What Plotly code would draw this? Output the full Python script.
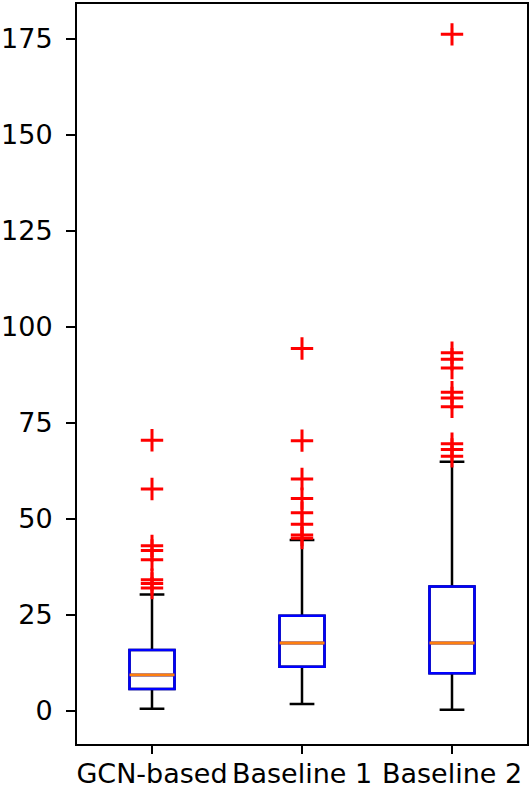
import plotly.graph_objects as go

categories = ["GCN-based", "Baseline 1", "Baseline 2"]
lower_whisker = [0.6, 1.8, 0.3]
q1 = [5.7, 11.5, 9.8]
median = [9.4, 17.7, 17.7]
q3 = [15.9, 24.8, 32.4]
upper_whisker = [30.3, 44.5, 64.9]

outliers_gcn = [70.5, 57.8, 43.0, 41.8, 39.4, 34.2, 33.2, 32.0]
outliers_b1 = [94.4, 70.4, 60.4, 55.3, 51.6, 48.6, 45.8, 45.0]
outliers_b2 = [176.2, 93.3, 91.6, 89.3, 83.0, 81.5, 79.2, 69.6, 68.1, 66.3]

y_ticks = [0, 25, 50, 75, 100, 125, 150, 175]

FONT = "DejaVu Sans"
FS = 27
clear = "rgba(0,0,0,0)"

fig = go.Figure()

# whiskers (black)
fig.add_trace(go.Box(
    x=categories, q1=q1, median=median, q3=q3,
    lowerfence=lower_whisker, upperfence=upper_whisker,
    width=0.3, whiskerwidth=0.55, boxpoints=False,
    line=dict(color="black", width=2.5), fillcolor=clear,
    showlegend=False, hoverinfo="skip"))

# box (blue)
fig.add_trace(go.Box(
    x=categories, q1=q1, median=median, q3=q3,
    lowerfence=q1, upperfence=q3,
    width=0.3, whiskerwidth=0, boxpoints=False,
    line=dict(color="#0000ff", width=2.5), fillcolor=clear,
    showlegend=False, hoverinfo="skip"))

# median (orange)
fig.add_trace(go.Box(
    x=categories, q1=median, median=median, q3=median,
    lowerfence=median, upperfence=median,
    width=0.3, whiskerwidth=0, boxpoints=False,
    line=dict(color="#ff7f0e", width=2.8), fillcolor=clear,
    showlegend=False, hoverinfo="skip"))

# outliers
ox, oy = [], []
for cat, vals in zip(categories, [outliers_gcn, outliers_b1, outliers_b2]):
    ox += [cat] * len(vals)
    oy += vals
fig.add_trace(go.Scatter(
    x=ox, y=oy, mode="markers",
    marker=dict(symbol="cross-thin", size=16, color="red",
                line=dict(color="red", width=3)),
    showlegend=False, hoverinfo="skip"))

fig.update_layout(
    width=529, height=789,
    margin=dict(l=77, r=2, t=4, b=45, autoexpand=False),
    plot_bgcolor="white", paper_bgcolor="white",
    boxmode="overlay",
    font=dict(family=FONT, size=FS, color="black"),
)
fig.update_xaxes(
    type="category", categoryorder="array", categoryarray=categories,
    range=[-0.5, 2.5], showline=True, linecolor="black", linewidth=2,
    mirror=True, ticks="outside", ticklen=8, tickwidth=2, tickcolor="black",
    showgrid=False, zeroline=False, automargin=False, tickangle=0,
    ticklabelstandoff=-3,
    tickfont=dict(family=FONT, size=FS))
fig.update_yaxes(
    range=[-8.6, 184.1], tickvals=y_ticks, ticktext=[str(v) for v in y_ticks],
    showline=True, linecolor="black", linewidth=2, mirror=True,
    ticks="outside", ticklen=9, tickwidth=2, tickcolor="black",
    showgrid=False, zeroline=False, automargin=False, ticklabelstandoff=8,
    tickfont=dict(family=FONT, size=FS))

fig.write_html(
    "out.html",
    config={"displayModeBar": False},
    post_script="document.body.style.margin='0';document.body.style.overflow='hidden';",
)
